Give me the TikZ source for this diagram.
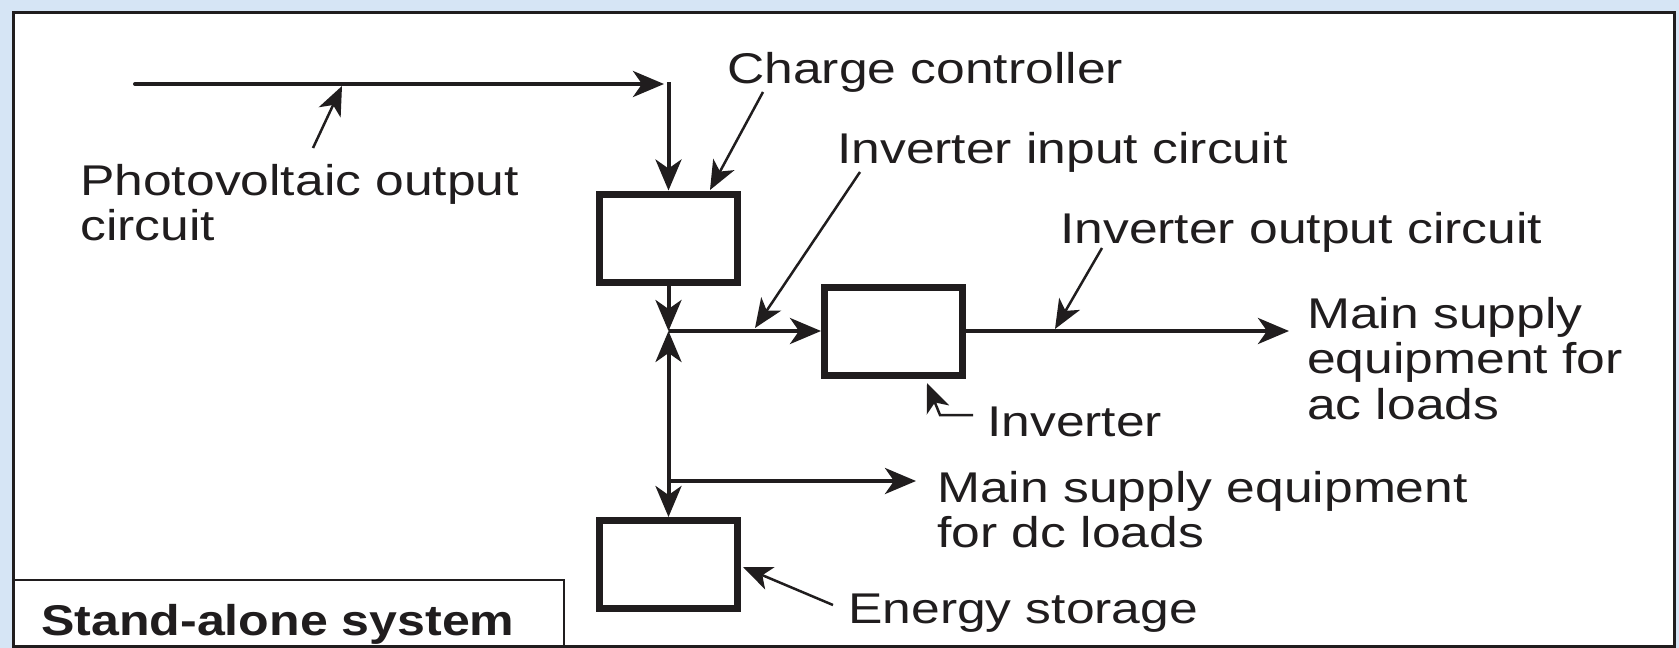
\documentclass[tikz,border=0pt]{standalone}
\usepackage{fontspec}
\setmainfont[FakeStretch=1.2]{Liberation Sans}
\newfontfamily\sabold[FakeStretch=1.165]{Liberation Sans Bold}
\usetikzlibrary{arrows.meta}
\definecolor{bgblue}{RGB}{214,229,245}
\definecolor{ink}{RGB}{32,29,30}
\begin{document}
\begin{tikzpicture}[x=1pt,y=-1pt,
  conn/.style={draw=ink,line width=4pt},
  tip/.style={-{Stealth[length=31pt,width=26pt,inset=9pt]}},
  dtip/.style={{Stealth[length=31pt,width=26pt,inset=9pt]}-{Stealth[length=31pt,width=26pt,inset=9pt]}},
  ptr/.style={draw=ink,line width=2.5pt,-{Stealth[length=29pt,width=24pt,inset=8pt]}},
  blk/.style={draw=ink,line width=7pt,fill=white,minimum width=138pt,minimum height=88pt,inner sep=0pt},
  lbl/.style={inner sep=0pt,anchor=base west,text=ink,font=\fontsize{43}{45.5}\selectfont}]
\useasboundingbox (0,0) rectangle (1679,648);
\fill[bgblue] (0,0) rectangle (1679,648);
\draw[ink,line width=3pt,fill=white] (13,12) rectangle (1674,646);
\draw[ink,line width=2.5pt] (13,580) -- (564,580) -- (564,646);

% blocks
\node[blk] (cc) at (668.5,238) {};
\node[blk] (inv) at (893.5,331) {};
\node[blk] (es) at (668.5,564.5) {};

% coordinates
\coordinate (pvS) at (135,84);
\coordinate (pvE) at (664,84);
\coordinate (pvC) at (668.5,82);
\coordinate (J) at (668.5,331);
\coordinate (D) at (668.5,481);
\coordinate (dcE) at (916,481);
\coordinate (acE) at (1289,331);

% main connectors
\draw[conn,line cap=round,tip] (pvS) -- (pvE);
\draw[conn,tip] (pvC) -- (cc.north);
\draw[conn,tip] (cc.south) -- (J);
\draw[conn,tip] (J) -- (inv.west);
\draw[conn,dtip] (J) -- (es.north);
\draw[conn,tip] (D) -- (dcE);
\draw[conn,tip] (inv.east) -- (acE);

% labels
\node[lbl] (tcc) at (727,83) {Charge controller};
\node[lbl] (tpv) at (80,195) {\begin{tabular}[t]{@{}l@{}}Photovoltaic output\\circuit\end{tabular}};
\node[lbl] (tin) at (837,163) {Inverter input circuit};
\node[lbl] (tout) at (1060,243) {Inverter output circuit};
\node[lbl] (tac) at (1307,328) {\begin{tabular}[t]{@{}l@{}}Main supply\\equipment for\\ac loads\end{tabular}};
\node[lbl] (tinv) at (987,436) {Inverter};
\node[lbl] (tdc) at (937,502) {\begin{tabular}[t]{@{}l@{}}Main supply equipment\\for dc loads\end{tabular}};
\node[lbl] (tes) at (848,623) {Energy storage};
\node[lbl,font=\sabold\fontsize{43}{45.5}\selectfont] (tsa) at (41,635) {Stand-alone system};

% pointer arrows
\coordinate (pvP) at (313,148); \coordinate (pvT) at (342,86);
\coordinate (ccP) at (763,92);  \coordinate (ccT) at (710,190);
\coordinate (inP) at (860,172); \coordinate (inT) at (755,328);
\coordinate (outP) at (1102,248); \coordinate (outT) at (1055,329);
\coordinate (ivP) at (973,415); \coordinate (ivB) at (940,415); \coordinate (ivT) at (927,383);
\coordinate (esP) at (833,605); \coordinate (esT) at (743,567);
\draw[ptr] (pvP) -- (pvT);
\draw[ptr] (ccP) -- (ccT);
\draw[ptr] (inP) -- (inT);
\draw[ptr] (outP) -- (outT);
\draw[ptr] (ivP) -- (ivB) -- (ivT);
\draw[ptr] (esP) -- (esT);
\end{tikzpicture}
\end{document}
